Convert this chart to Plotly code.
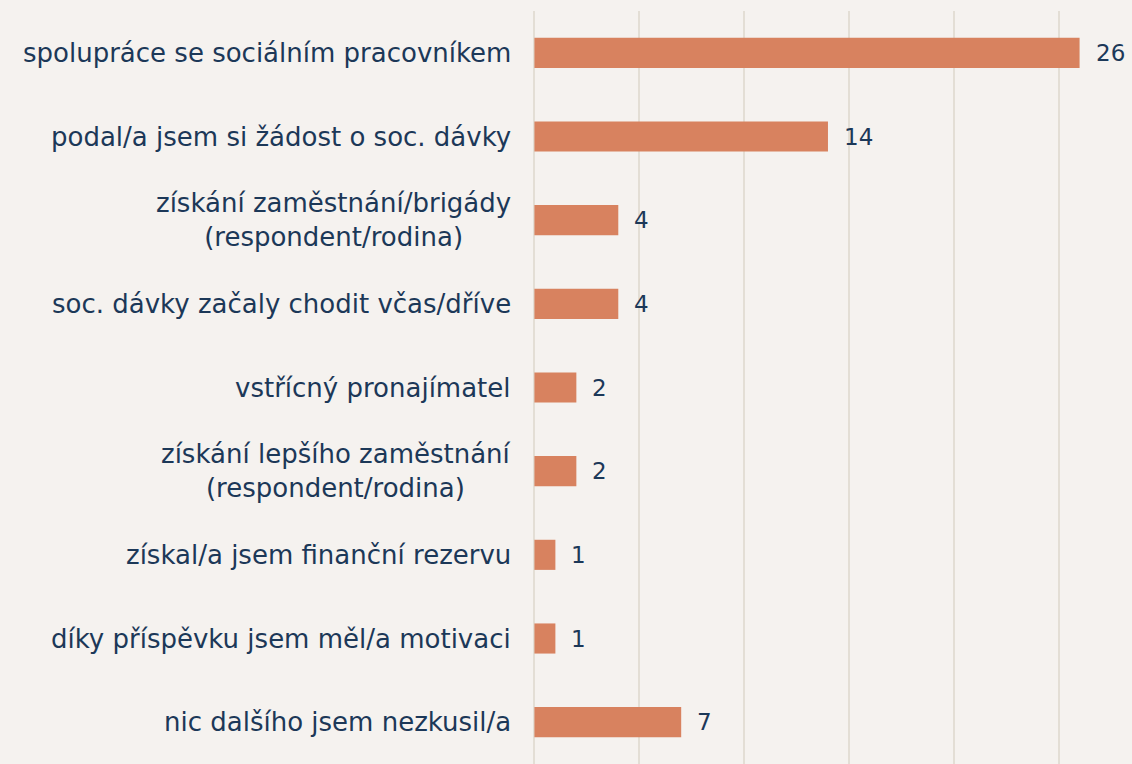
import plotly.graph_objects as go

categories = [
    "spolupráce se sociálním pracovníkem",
    "podal/a jsem si žádost o soc. dávky",
    "získání zaměstnání/brigády<br>(respondent/rodina)",
    "soc. dávky začaly chodit včas/dříve",
    "vstřícný pronajímatel",
    "získání lepšího zaměstnání<br>(respondent/rodina)",
    "získal/a jsem finanční rezervu",
    "díky příspěvku jsem měl/a motivaci",
    "nic dalšího jsem nezkusil/a",
]
values = [26, 14, 4, 4, 2, 2, 1, 1, 7]

BG = "#f5f2ef"
BAR = "#d8825f"
TXT = "#1c3858"
GRID = "#e3ded5"
FONT = "DejaVu Sans"

fig = go.Figure(go.Bar(
    x=values, y=categories, orientation="h",
    marker=dict(color=BAR, line=dict(width=0)),
    width=0.36,
))

ann = []
for c, v in zip(categories, values):
    ann.append(dict(x=v, y=c, xref="x", yref="y", text=str(v), showarrow=False,
                    xanchor="left", xshift=14, font=dict(family=FONT, size=23, color=TXT)))
    ann.append(dict(x=0, y=c, xref="x", yref="y", text=c, showarrow=False,
                    xanchor="right", align="center", xshift=-21,
                    font=dict(family=FONT, size=26, color=TXT)))

fig.update_layout(
    width=1132, height=764,
    margin=dict(l=534, r=0, t=11, b=0),
    paper_bgcolor=BG, plot_bgcolor=BG,
    showlegend=False,
    annotations=ann,
    xaxis=dict(range=[-0.02, 28.5], dtick=5, showgrid=True, gridcolor=GRID, gridwidth=1.5,
               showticklabels=False, zeroline=True, zerolinecolor=GRID, zerolinewidth=1.5,
               showline=False, ticks=""),
    yaxis=dict(categoryorder="array", categoryarray=categories[::-1],
               showticklabels=False, showgrid=False, zeroline=False, ticks="",
               range=[-0.5, 8.5]),
)
fig.write_html("out.html", config={"displayModeBar": False},
               post_script="document.body.style.margin='0';document.body.style.overflow='hidden';")
